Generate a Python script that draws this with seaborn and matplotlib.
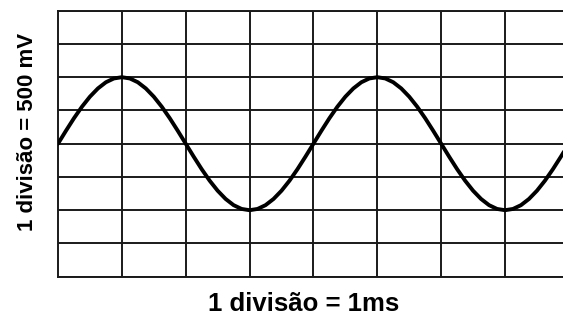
import matplotlib
matplotlib.use("Agg")
import matplotlib.pyplot as plt
import seaborn as sns
import pandas as pd

# Time axis (ms), sampled every 0.125 ms
time_ms = [i * 0.125 for i in range(65)]

# Measured voltage (mV)
voltage_mv = [
    0, 195, 383, 556, 707, 831, 924, 981, 1000, 981, 924, 831, 707, 556, 383, 195,
    0, -195, -383, -556, -707, -831, -924, -981, -1000, -981, -924, -831, -707, -556, -383, -195,
    0, 195, 383, 556, 707, 831, 924, 981, 1000, 981, 924, 831, 707, 556, 383, 195,
    0, -195, -383, -556, -707, -831, -924, -981, -1000, -981, -924, -831, -707, -556, -383, -195,
    0,
]

# Screen divisions
x_divisions = [1, 2, 3, 4, 5, 6, 7, 8]
y_divisions = [-2000, -1500, -1000, -500, 0, 500, 1000, 1500, 2000]

x_label = "1 divisão = 1ms"
y_label = "1 divisão = 500 mV"

df = pd.DataFrame({"t": time_ms, "v": voltage_mv})

sns.set_style("white")
plt.rcParams["font.family"] = ["Liberation Sans", "DejaVu Sans"]

W, H = 563, 320
fig = plt.figure(figsize=(W / 100, H / 100), dpi=100)
left_px, top_px, bottom_px = 58, 10.7, 276.7
div_px = 63.86
ax = fig.add_axes([left_px / W, 1 - bottom_px / H, (W - left_px) / W, (bottom_px - top_px) / H])

grid_color = "#1a1a1a"
for xv in x_divisions:
    ax.axvline(xv, color=grid_color, lw=1.4, zorder=1)
for yv in y_divisions:
    ax.axhline(yv, color=grid_color, lw=1.4, zorder=1)

sns.lineplot(data=df, x="t", y="v", ax=ax, color="black", lw=2.8, zorder=3,
             solid_capstyle="round", solid_joinstyle="round")

ax.set_xlim(0, (W - left_px) / div_px)
ax.set_ylim(-2000, 2000)
ax.set_xticks([])
ax.set_yticks([])
ax.set_xlabel("")
ax.set_ylabel("")
for side in ["left", "top", "bottom"]:
    ax.spines[side].set_visible(True)
    ax.spines[side].set_color(grid_color)
    ax.spines[side].set_linewidth(1.4)
ax.spines["right"].set_visible(False)

fig.text(304 / W, 1 - 311 / H, x_label, ha="center", va="baseline",
         fontsize=18.5, fontweight="bold", color="black")
fig.text(33 / W, 1 - 132 / H, y_label, ha="center", va="baseline",
         rotation=90, rotation_mode="anchor",
         fontsize=16, fontweight="bold", color="black")

fig.savefig("out.png", dpi=100, facecolor="white")
